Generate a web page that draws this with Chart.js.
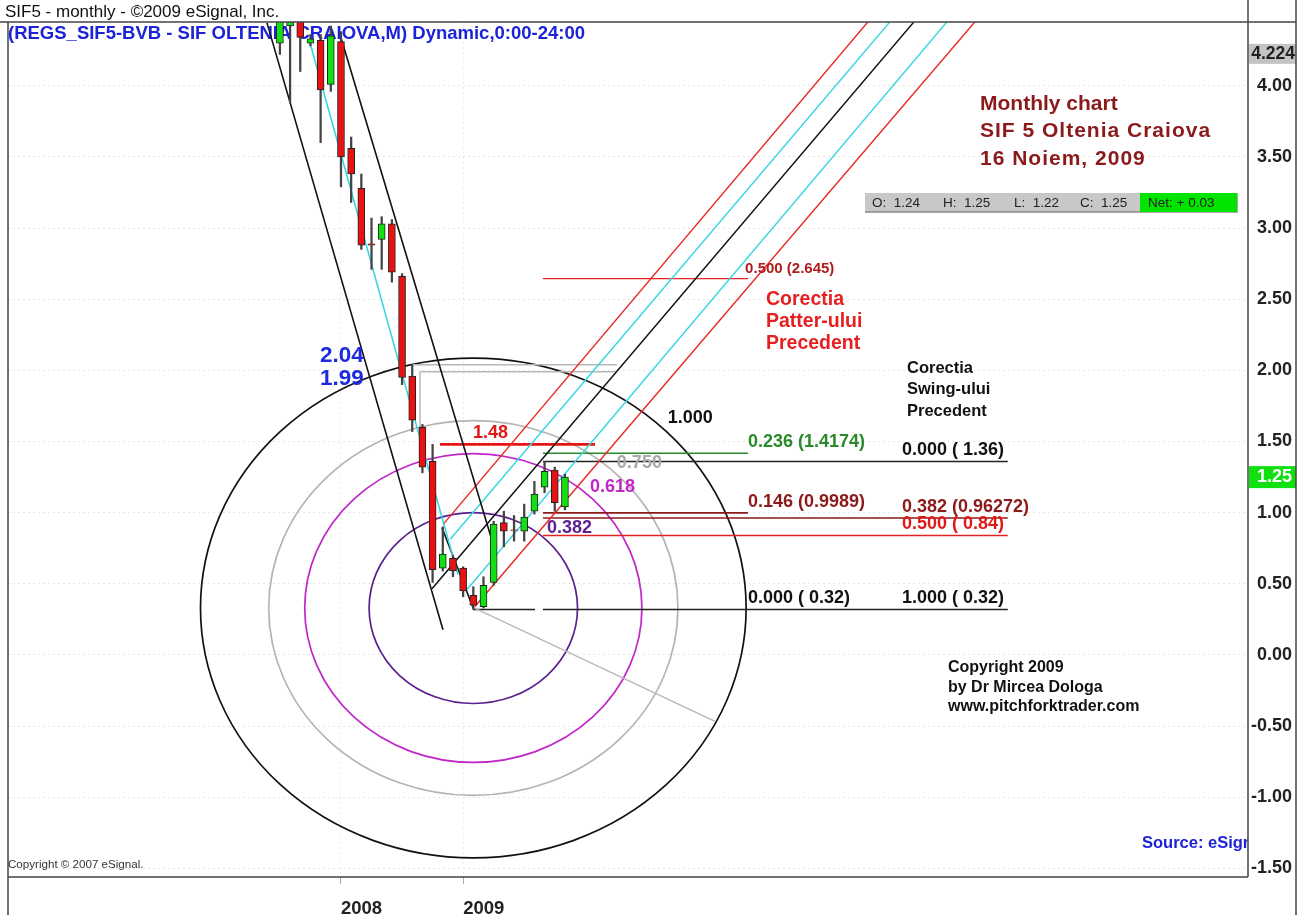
<!DOCTYPE html>
<html><head><meta charset="utf-8">
<script src="https://cdn.jsdelivr.net/npm/chart.js@4.4.0/dist/chart.umd.min.js"></script>
<style>html,body{margin:0;padding:0;background:#fff;overflow:hidden}#wrap{position:relative;width:1314px;height:915px}</style>
</head><body><div id="wrap"><canvas id="c" width="1314" height="915"></canvas></div>
<script>
// ---------------- data (month index: 0 = Jan 2008) ----------------
const monthIdx = [-6,-5,-4,-3,-2,-1,0,1,2,3,4,5,6,7,8,9,10,11,12,13,14,15,16,17,18,19,20,21,22];
const openP  = [4.30,4.42,4.55,4.30,4.32,4.01,4.31,3.56,3.28,2.89,2.92,3.03,2.66,1.96,1.60,1.36,0.61,0.68,0.61,0.42,0.34,0.51,0.93,0.88,0.87,1.01,1.18,1.30,1.04];
const highP  = [4.70,4.65,4.60,4.36,4.36,4.42,4.38,3.64,3.38,3.07,3.08,3.06,2.68,2.04,1.62,1.48,0.90,0.70,0.62,0.48,0.55,0.94,1.01,0.98,1.06,1.22,1.36,1.32,1.27];
const lowP   = [4.22,3.88,4.10,4.28,3.60,3.96,3.29,3.18,2.85,2.71,2.71,2.62,1.90,1.57,1.28,0.51,0.59,0.55,0.41,0.32,0.33,0.49,0.76,0.80,0.80,0.99,1.14,1.01,1.02];
const closeP = [4.55,4.55,4.34,4.33,3.97,4.35,3.50,3.38,2.88,2.88,3.03,2.69,1.95,1.65,1.32,0.60,0.71,0.59,0.45,0.35,0.49,0.92,0.87,0.875,0.97,1.13,1.29,1.07,1.25];

const yTickValues = [-1.5,-1.0,-0.5,0.0,0.5,1.0,1.5,2.0,2.5,3.0,3.5,4.0];
const yearTickValues = [0,12];
const yearLabels = ['2008','2009'];

// trend / pitchfork segments: [month1, price1, month2, price2]
const downForkBlack = [[-7.27,4.442,10.02,0.178],[0,4.337,14.83,0.807]];
const downForkCyan  = [[-3.05,4.302,11.49,0.565]];
const upForkRed     = [[10.02,0.916,51.77,4.449],[13.16,0.34,62.28,4.449]];
const upForkCyan    = [[10.71,0.811,53.93,4.449],[12.38,0.46,59.53,4.449]];
const upForkBlack   = [[8.94,0.466,56.29,4.449],[9.92,0.895,12.97,0.333]];
const grayLines     = [[12.97,0.335,36.74,-0.466],[6.97,2.04,27.1,2.04],[7.76,1.99,27.1,1.99],[7.76,1.99,7.76,1.58]];

// retracement levels: price, from month, to month
const fibLevels = [2.645,1.48,1.4174,1.36,0.9989,0.96272,0.84,0.32,0.32];
const fibFrom   = [19.84,9.73,19.84,19.84,19.84,19.84,19.84,12.97,19.84];
const fibTo     = [39.98,24.95,39.98,65.5,39.98,65.5,65.5,19.06,65.5];

// fibonacci circles around the low
const circleCenter = [13.0, 0.33];
const circleRatios = [0.382,0.618,0.75,1.0];
const circleRadius = [26.8, 1.756]; // months, price for ratio 1.000

// ---------------- styles ----------------
const FONT = '"Liberation Sans", Arial, sans-serif';
const AXIS_BOX = 48;
const fibColors = ['#e02424','#e81414','#2a8a2a','#222222','#8b1a1a','#8b1a1a','#e02424','#222222','#222222'];
const fibWidths = [1.3,2.6,1.6,1.6,1.6,1.6,1.6,1.6,1.6];
const circleColors = ['#5b1f8f','#c026c8','#b4b4b4','#111111'];

function seg(s, color, w){
  return {type:'line', data:[{x:s[0],y:s[1]},{x:s[2],y:s[3]}], borderColor:color, borderWidth:w,
          pointRadius:0, tension:0, order:2, clip:0};
}
const datasets = [];
downForkBlack.forEach(s=>datasets.push(seg(s,'#111',1.6)));
downForkCyan.forEach(s=>datasets.push(seg(s,'#3ad6e0',1.6)));
upForkRed.forEach(s=>datasets.push(seg(s,'#e82a2a',1.5)));
upForkCyan.forEach(s=>datasets.push(seg(s,'#3ad6e0',1.5)));
upForkBlack.forEach(s=>datasets.push(seg(s,'#111',1.5)));
grayLines.forEach(s=>datasets.push(seg(s,'#b8b8b8',1.5)));
fibLevels.forEach((v,i)=>datasets.push(seg([fibFrom[i],v,fibTo[i],v],fibColors[i],fibWidths[i])));

datasets.push({type:'bar', order:1, grouped:false, barThickness:1.6,
  data: monthIdx.map((m,i)=>({x:m, y:[lowP[i],highP[i]]})), backgroundColor:'#444', borderWidth:0});
datasets.push({type:'bar', order:0, grouped:false, barThickness:7,
  data: monthIdx.map((m,i)=>({x:m, y:[openP[i],closeP[i]]})),
  backgroundColor: monthIdx.map((m,i)=> closeP[i] >= openP[i] ? '#12e012' : '#e81212'),
  borderColor:'#222', borderWidth:1, borderSkipped:false});

function txt(ctx, s, x, y, font, color, align, base, spacing){
  ctx.font = font; ctx.fillStyle = color; ctx.textAlign = align||'left'; ctx.textBaseline = base||'middle';
  ctx.letterSpacing = spacing || '0px';
  ctx.fillText(s, x, y);
  ctx.letterSpacing = '0px';
}

const annot = {
  id:'annot',
  beforeDatasetsDraw(chart){
    const {ctx, chartArea:a, scales:{x:xs, y:ys}} = chart;
    ctx.save();
    ctx.beginPath(); ctx.rect(a.left,a.top,a.right-a.left,a.bottom-a.top); ctx.clip();
    const cx = xs.getPixelForValue(circleCenter[0]), cy = ys.getPixelForValue(circleCenter[1]);
    circleRatios.forEach((r,i)=>{
      const rx = Math.abs(xs.getPixelForValue(circleCenter[0]+r*circleRadius[0]) - cx);
      const ry = Math.abs(ys.getPixelForValue(circleCenter[1]+r*circleRadius[1]) - cy);
      ctx.beginPath(); ctx.ellipse(cx,cy,rx,ry,0,0,Math.PI*2);
      ctx.strokeStyle = circleColors[i]; ctx.lineWidth = 1.7; ctx.stroke();
    });
    // header text lies under the candles
    txt(ctx,'(REGS_SIF5-BVB - SIF OLTENIA CRAIOVA,M) Dynamic,0:00-24:00', 8, 34, 'bold 18.5px '+FONT, '#1c22d8');
    ctx.restore();
  },
  afterDatasetsDraw(chart){
    const {ctx, chartArea:a, scales:{x:xs, y:ys}} = chart;
    const X = m=>xs.getPixelForValue(m), Y = v=>ys.getPixelForValue(v);
    ctx.save();
    ctx.beginPath(); ctx.rect(a.left,a.top,a.right-a.left,a.bottom-a.top); ctx.clip();
    const f18 = 'bold 18px '+FONT;
    // level labels (sit just above their line)
    const lab = (s,m,v,c,f)=>txt(ctx,s,X(m),Y(v)-2,f||f18,c,'left','bottom');
    lab('0.500 (2.645)',39.7,2.645,'#b01c1c','bold 15px '+FONT);
    lab('1.48',12.97,1.48,'#e01818');
    lab('0.236 (1.4174)',39.98,1.4174,'#2a8a2a');
    lab('0.000 ( 1.36)',55.1,1.36,'#111');
    lab('0.146 (0.9989)',39.98,0.9989,'#8b1a1a');
    lab('0.382 (0.96272)',55.1,0.96272,'#8b1a1a');
    lab('0.500 ( 0.84)',55.1,0.84,'#e01818');
    lab('0.000 ( 0.32)',39.98,0.32,'#111');
    lab('1.000 ( 0.32)',55.1,0.32,'#111');
    // circle labels
    txt(ctx,'1.000',X(32.1),Y(1.668),f18,'#111');
    txt(ctx,'0.750',X(27.1),Y(1.352),f18,'#a8a8a8');
    txt(ctx,'0.618',X(24.46),Y(1.183),f18,'#c026c8');
    txt(ctx,'0.382',X(20.24),Y(0.895),f18,'#5b1f8f');
    // swing values
    txt(ctx,'2.04',X(-2.06),Y(2.103),'bold 22.5px '+FONT,'#1c2ae0');
    txt(ctx,'1.99',X(-2.06),Y(1.942),'bold 22.5px '+FONT,'#1c2ae0');
    // comments
    ['Corectia','Patter-ului','Precedent'].forEach((s,i)=>txt(ctx,s,X(41.75),Y(2.496)+i*22,'bold 19.5px '+FONT,'#e42020'));
    ['Corectia','Swing-ului','Precedent'].forEach((s,i)=>txt(ctx,s,X(55.6),Y(2.015)+i*21.5,'bold 16.5px '+FONT,'#111'));
    // title
    ['Monthly chart','SIF 5 Oltenia Craiova','16 Noiem, 2009'].forEach((s,i)=>txt(ctx,s,980,104+i*27.5,'bold 21px '+FONT,'#8b1a1a','left','middle', i? '1px':'0px'));
    // copyright
    ['Copyright 2009','by Dr Mircea Dologa','www.pitchforktrader.com'].forEach((s,i)=>txt(ctx,s,948,668+i*19.5,'bold 16px '+FONT,'#111'));
    txt(ctx,'Source: eSignal',1142,843,'bold 16.5px '+FONT,'#1c22d8');
    txt(ctx,'Copyright \u00a9 2007 eSignal.',8,865,'11.6px '+FONT,'#333');
    // OHLC box
    ctx.fillStyle='#c8c8c8'; ctx.fillRect(865,193,372,19);
    ctx.strokeStyle='#8a8a8a'; ctx.lineWidth=1.5;
    ctx.beginPath(); ctx.moveTo(865,212); ctx.lineTo(1237,212); ctx.lineTo(1237,193); ctx.stroke();
    ctx.fillStyle='#00e400'; ctx.fillRect(1140,193,97,19);
    const f13='13.5px '+FONT;
    txt(ctx,'O:  1.24',872,203,f13,'#222');
    txt(ctx,'H:  1.25',943,203,f13,'#222');
    txt(ctx,'L:  1.22',1014,203,f13,'#222');
    txt(ctx,'C:  1.25',1080,203,f13,'#222');
    txt(ctx,'Net: + 0.03',1148,203,f13,'#222');
    ctx.restore();
  },
  afterDraw(chart){
    const {ctx, chartArea:a, scales:{y:ys}} = chart;
    const boxR = a.right + AXIS_BOX;
    ctx.save();
    txt(ctx,'SIF5 - monthly - \u00a92009 eSignal, Inc.',5,12,'17px '+FONT,'#111');
    // value markers on the price axis
    const y1 = ys.getPixelForValue(4.224);
    ctx.fillStyle='#c4c4c4'; ctx.fillRect(a.right+1,y1-10,boxR-a.right-1,20);
    txt(ctx,'4.224',boxR-1,y1,'bold 17.5px '+FONT,'#222','right');
    const y2 = ys.getPixelForValue(1.25);
    ctx.fillStyle='#10e010'; ctx.fillRect(a.right+1,y2-11,boxR-a.right-1,22);
    txt(ctx,'1.25',boxR-4,y2,'bold 18px '+FONT,'#fff','right');
    // frame
    ctx.strokeStyle='#444'; ctx.lineWidth=1.5;
    ctx.beginPath();
    ctx.moveTo(0,a.top); ctx.lineTo(boxR,a.top);
    ctx.moveTo(a.left,a.bottom); ctx.lineTo(a.right,a.bottom);
    ctx.moveTo(a.right,0); ctx.lineTo(a.right,a.bottom);
    ctx.moveTo(boxR,0); ctx.lineTo(boxR,chart.height);
    ctx.moveTo(a.left,a.top); ctx.lineTo(a.left,chart.height);
    ctx.stroke();
    ctx.restore();
  }
};

new Chart(document.getElementById('c'), {
  data:{datasets},
  options:{
    responsive:false, animation:false, devicePixelRatio:1,
    layout:{padding:{left:8, top:22, right:22, bottom:0}},
    plugins:{legend:{display:false}, tooltip:{enabled:false}},
    scales:{
      x:{type:'linear', min:-32.71, max:89.1, offset:false, position:'bottom',
         afterBuildTicks:s=>{s.ticks = yearTickValues.map(v=>({value:v}));},
         afterFit:s=>{s.height = 38;},
         ticks:{callback:v=>yearLabels[yearTickValues.indexOf(v)], align:'start', padding:14,
                font:{family:FONT, size:18.5, weight:'bold'}, color:'#222', maxRotation:0, autoSkip:false},
         grid:{offset:false, color:'#ededed', tickColor:'#aaa', tickLength:7, lineWidth:1},
         border:{display:false, dash:[2,3]}},
      y:{type:'linear', min:-1.56, max:4.448, position:'right',
         afterBuildTicks:s=>{s.ticks = yTickValues.map(v=>({value:v}));},
         afterFit:s=>{s.width = 44;},
         ticks:{callback:v=>v.toFixed(2), crossAlign:'far', padding:0,
                font:{family:FONT, size:18, weight:'bold'}, color:'#222'},
         grid:{color:'#e6e6e6', drawTicks:false, lineWidth:1},
         border:{display:false, dash:[2,3]}}
    }
  },
  plugins:[annot]
});
</script></body></html>
